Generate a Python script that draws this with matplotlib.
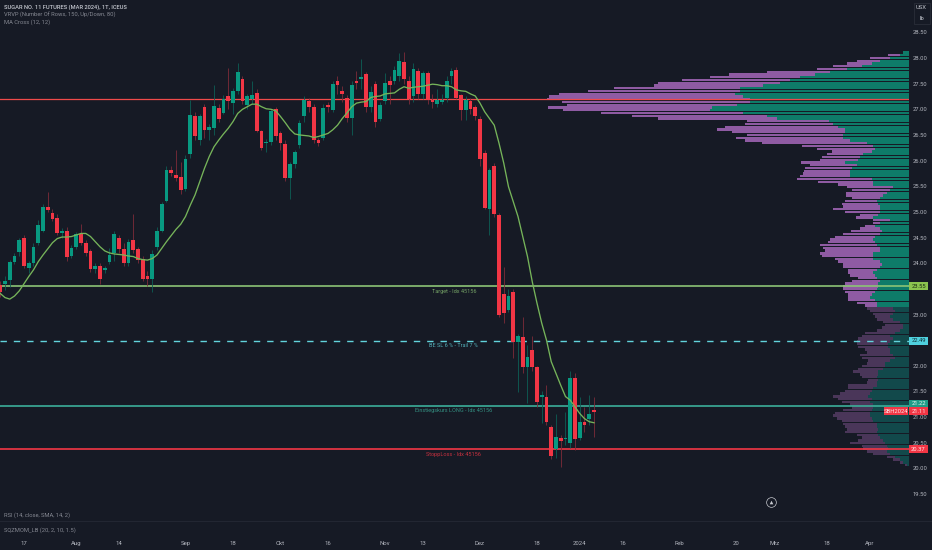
import matplotlib
matplotlib.use("Agg")
import matplotlib.pyplot as plt
import numpy as np
from matplotlib.lines import Line2D
from matplotlib.patches import FancyBboxPatch

plt.rcParams['font.family'] = ['Roboto', 'DejaVu Sans']

# daily candles, first one is five sessions before the "17" tick
opens = [23.57,23.59,23.67,24.03,24.22,24.49,23.90,24.00,24.40,24.63,
         25.09,24.98,24.89,24.59,24.63,24.14,24.32,24.57,24.40,24.23,
         23.88,23.94,23.87,24.03,24.20,24.50,24.27,24.00,24.45,24.27,
         24.09,23.75,23.70,24.32,24.63,25.22,25.82,25.71,25.69,25.45,
         26.13,26.87,26.40,27.04,26.60,26.64,27.03,26.93,27.25,27.13,
         27.36,27.60,27.08,27.20,27.31,26.58,26.34,26.37,27.00,26.53,
         26.33,25.67,25.93,26.30,26.86,27.17,27.05,26.40,26.44,27.08,
         26.99,27.56,27.36,27.23,26.84,27.55,27.59,27.68,27.04,27.49,
         26.82,27.16,27.56,27.56,27.65,27.92,27.56,27.25,27.75,27.30,
         27.70,27.19,27.10,27.15,27.23,27.64,27.77,27.27,26.98,27.17,
         27.04,26.82,26.15,25.06,25.90,24.93,23.39,23.09,23.44,22.47,
         22.57,21.97,22.31,21.98,21.40,21.40,20.81,20.37,20.60,20.57,
         20.50,21.77,20.59,20.90,20.97,21.14]
closes = [23.44,23.66,24.03,24.14,24.45,23.94,24.00,24.32,24.75,25.09,
          25.04,24.87,24.58,24.63,24.13,24.29,24.56,24.39,24.19,23.88,
          23.95,23.70,23.90,24.16,24.56,24.27,24.00,24.42,24.26,24.06,
          23.70,23.70,24.17,24.63,25.15,25.82,25.75,25.67,25.43,26.04,
          26.89,26.47,26.87,26.60,26.66,27.06,26.81,27.21,27.17,27.36,
          27.72,27.16,27.26,27.28,26.58,26.24,26.37,26.97,26.48,26.35,
          25.67,25.93,26.16,26.74,27.18,27.05,26.40,26.35,27.03,27.05,
          27.49,27.48,27.29,26.84,27.48,27.52,27.62,27.04,27.34,26.75,
          27.08,27.51,27.48,27.77,27.95,27.59,27.20,27.78,27.29,27.70,
          27.19,27.15,27.18,27.18,27.56,27.75,27.23,26.98,27.18,27.00,
          26.86,26.04,25.08,25.81,24.96,22.99,23.02,23.36,22.47,22.58,
          21.97,22.18,21.98,21.30,21.43,20.91,20.24,20.62,20.53,20.59,
          21.77,20.58,20.91,20.84,21.07,21.10]
highs = [23.65,23.75,24.06,24.20,24.50,24.55,24.05,24.40,24.85,25.15,
         25.39,25.05,24.95,24.68,24.70,24.35,24.60,24.76,24.45,24.28,
         24.00,24.00,23.95,24.30,24.62,24.55,24.40,24.48,24.96,24.32,
         24.15,23.85,24.25,24.70,25.20,25.90,25.90,26.20,25.98,26.10,
         27.18,26.95,26.90,27.10,26.72,27.47,27.10,27.27,27.80,27.42,
         27.90,27.65,27.30,27.55,27.40,26.60,26.42,27.00,27.05,26.58,
         26.40,25.97,26.20,26.80,27.25,27.22,27.10,26.45,27.10,27.15,
         27.55,27.65,27.45,27.28,27.55,27.75,27.98,27.72,27.45,27.55,
         27.15,27.70,27.65,27.85,28.10,28.12,27.65,27.90,27.80,27.75,
         27.75,27.30,27.40,27.30,27.65,27.80,27.82,27.30,27.25,27.22,
         27.08,26.87,26.20,25.85,25.95,24.98,23.93,23.50,23.50,22.62,
         22.96,22.40,22.58,22.00,21.50,21.62,20.85,21.07,20.65,21.10,
         21.90,21.85,21.40,21.20,21.43,21.40]
lows = [23.35,23.47,23.54,23.98,24.15,23.90,23.80,23.95,24.35,24.60,
        25.00,24.82,24.55,24.50,24.05,24.10,24.28,24.35,24.15,23.82,
        23.80,23.60,23.80,23.98,24.05,24.20,23.95,23.95,24.20,24.00,
        23.65,23.55,23.44,24.25,24.60,25.20,25.70,25.60,25.35,25.40,
        26.05,26.40,26.30,26.45,26.40,26.50,26.75,26.90,27.00,26.90,
        27.30,27.10,27.00,27.10,26.55,26.20,26.17,26.30,26.40,26.20,
        25.60,25.26,25.85,26.25,26.75,26.95,26.35,26.28,26.40,26.95,
        26.95,27.30,27.15,26.75,26.50,27.40,27.40,26.95,26.95,26.65,
        26.78,27.10,27.10,27.50,27.55,27.50,27.10,27.15,27.20,27.20,
        27.10,27.03,27.05,27.10,27.15,27.50,27.20,26.80,26.80,26.90,
        26.80,25.90,25.05,24.55,24.90,22.95,22.83,23.05,22.15,21.49,
        21.85,21.27,21.90,21.20,20.88,20.85,20.18,20.20,20.03,20.45,
        20.40,20.35,20.55,20.70,20.85,20.62]
ma_line = [23.41,23.33,23.30,23.36,23.46,23.60,23.74,23.87,24.03,24.16,
           24.28,24.40,24.48,24.51,24.51,24.52,24.55,24.58,24.58,24.52,
           24.42,24.32,24.24,24.20,24.18,24.17,24.16,24.14,24.13,24.09,
           24.07,24.06,24.09,24.16,24.29,24.42,24.54,24.66,24.76,24.91,
           25.13,25.33,25.59,25.85,26.08,26.27,26.40,26.52,26.63,26.76,
           26.92,27.00,27.05,27.10,27.10,27.05,27.01,27.00,26.97,26.86,
           26.74,26.61,26.52,26.50,26.49,26.48,26.45,26.47,26.50,26.53,
           26.60,26.69,26.82,26.93,27.05,27.12,27.14,27.15,27.23,27.25,
           27.26,27.30,27.31,27.32,27.39,27.44,27.41,27.43,27.44,27.45,
           27.47,27.49,27.48,27.46,27.46,27.44,27.38,27.36,27.35,27.30,
           27.26,27.12,26.95,26.82,26.69,26.34,25.95,25.49,25.20,24.91,
           24.52,24.13,23.64,23.22,22.83,22.50,22.08,21.85,21.62,21.40,
           21.33,21.20,21.07,20.97,20.91,20.89]

# volume profile rows, top of the range first
vp_total = [6,21,39,52,62,76,92,142,180,199,227,251,255,295,321,350,360,362,347,342,
            361,346,308,277,251,162,164,184,192,177,162,173,164,147,107,92,77,82,87,89,
            108,99,104,105,106,109,112,91,71,62,57,63,63,57,64,67,66,76,64,49,
            53,36,36,44,49,58,66,74,79,81,89,86,84,89,87,74,71,66,66,61,
            61,59,51,57,64,66,66,64,61,61,61,52,44,42,39,36,34,32,26,24,
            27,32,44,47,51,52,52,51,44,42,49,47,41,42,47,51,56,49,47,41,
            42,61,61,64,69,76,71,67,59,57,66,74,76,72,67,66,64,62,64,52,
            47,51,59,47,46,42,36,22,16,9,4]
vp_up = [6,9,19,29,37,47,62,79,94,109,119,129,146,169,169,174,166,159,159,172,
         197,199,166,142,132,80,76,71,64,64,66,66,59,42,36,34,37,46,49,51,
         64,52,57,59,59,59,37,36,36,16,19,22,26,29,32,31,29,29,29,31,
         36,19,29,34,29,27,29,34,36,34,32,29,29,36,36,36,29,27,29,32,
         36,34,32,29,31,31,32,34,37,39,34,32,32,16,14,16,19,16,9,6,
         6,9,14,19,16,19,21,21,19,19,16,14,19,24,24,26,31,31,32,31,
         32,32,36,37,39,41,37,39,36,36,37,39,39,37,36,32,32,31,32,31,
         29,26,24,22,21,22,19,14,9,6,2]
vp_value_rows = 93
vp_top_price = 28.107
vp_bottom_price = 20.066

# 23.50 and 22.50 sit behind the price tags, so they are left out
price_ticks = [28.5,28.0,27.5,27.0,26.5,26.0,25.5,25.0,24.5,24.0,23.0,22.0,21.5,21.0,20.5,20.0,19.5]
date_positions = [0,11,20,34,44,54,64,76,84,96,108,117,126,138,150,158,169,178]
date_labels = ['17','Aug','14','Sep','18','Okt','16','Nov','13','Dez','18','2024','16','Feb','20','Mrz','18','Apr']

resistance_price = 27.20
target_price = 23.55
trail_price = 22.49
entry_price = 21.22
stop_price = 20.37
last_price = 21.11

BG = '#161a25'
UP = '#089981'
DOWN = '#f23645'
TEXT = '#b2b5be'
MA_GREEN = '#76b45a'
TARGET_GREEN = '#8cc476'
CYAN = '#62d3dc'
ENTRY = '#3cae9a'

W, H = 932, 550


def px_rect(left, top, right, bottom):
    return [left / W, 1 - bottom / H, (right - left) / W, (bottom - top) / H]


fig = plt.figure(figsize=(W / 100, H / 100), dpi=100, facecolor=BG)

# profile sits under the price pane, one volume unit is one pixel
vp_ax = fig.add_axes(px_rect(0, 0, 909, 520), zorder=1)
ax = fig.add_axes(px_rect(0, 0, 909, 520), zorder=2)
ax.patch.set_alpha(0)

idx = np.arange(len(opens)) - 5
opens = np.array(opens)
closes = np.array(closes)
is_up = closes >= opens

# price scale: 51.3 px per unit, 28.00 sits at y=58
ymax = 28 + 58 / 51.3
ymin = 28 - 462 / 51.3
ax.set_ylim(ymin, ymax)
ax.set_xlim(-24 / 4.75, (909 - 24) / 4.75)
vp_ax.set_ylim(ymin, ymax)
vp_ax.set_xlim(909, 0)
vp_ax.axis('off')

rows = np.linspace(vp_top_price, vp_bottom_price, len(vp_total))
row_h = (vp_top_price - vp_bottom_price) / (len(vp_total) - 1)
n = vp_value_rows
vp_ax.barh(rows[:n], vp_total[:n], height=row_h * 0.9, color='#8f5ba3', linewidth=0)
vp_ax.barh(rows[:n], vp_up[:n], height=row_h * 0.9, color='#0e7b69', linewidth=0)
vp_ax.barh(rows[n:], vp_total[n:], height=row_h * 0.9, color='#4a3659', linewidth=0)
vp_ax.barh(rows[n:], vp_up[n:], height=row_h * 0.9, color='#12494b', linewidth=0)

# level lines
ax.axhline(resistance_price, color='#ef4a4a', lw=0.9, zorder=2)
ax.axhline(target_price, color=TARGET_GREEN, lw=1.2, zorder=2)
ax.axhline(trail_price, color=CYAN, lw=1.0, linestyle=(0, (4.6, 5.0)), zorder=2)
ax.axhline(entry_price, color=ENTRY, lw=1.2, zorder=2)
ax.axhline(stop_price, color=DOWN, lw=1.2, zorder=2)

# candles
ax.vlines(idx[is_up], np.array(lows)[is_up], np.array(highs)[is_up], color='#0d5f55', lw=0.6, zorder=3)
ax.vlines(idx[~is_up], np.array(lows)[~is_up], np.array(highs)[~is_up], color='#7d2b39', lw=0.6, zorder=3)
ax.bar(idx[is_up], (closes - opens)[is_up], bottom=opens[is_up], width=0.84, color=UP, linewidth=0, zorder=4)
ax.bar(idx[~is_up], (opens - closes)[~is_up], bottom=closes[~is_up], width=0.84, color=DOWN, linewidth=0, zorder=4)
ax.plot(idx, ma_line, color=MA_GREEN, lw=0.95, zorder=5)

for s in ax.spines.values():
    s.set_visible(False)
ax.yaxis.tick_right()
ax.set_yticks(price_ticks)
ax.set_yticklabels([f'{p:.2f}' for p in price_ticks])
ax.tick_params(axis='y', length=0, pad=2.4, labelsize=4.2, labelcolor=TEXT)
ax.set_xticks(date_positions)
ax.set_xticklabels(date_labels)
ax.tick_params(axis='x', length=0, pad=15, labelsize=4.3, labelcolor=TEXT)

# line captions
cap_x = 90.5
for price, txt, col in [(target_price, 'Target - Idx 45156', TARGET_GREEN),
                        (trail_price, 'BE SL 6 % - Trail 7 %', CYAN),
                        (entry_price, 'Einstiegskurs LONG - Idx 45156', ENTRY),
                        (stop_price, 'StoppLoss - Idx 45156', DOWN)]:
    ax.annotate(txt, (cap_x, price), xytext=(0, -1.6), textcoords='offset points',
                ha='center', va='top', fontsize=4.0, color=col, alpha=0.8, zorder=6)


# price tags in the axis strip
def tag(price, label, bg, fg, left=909, right=928, shift=0):
    y = 58 + (28 - price) * 51.3 + shift
    box = FancyBboxPatch((left / W, 1 - (y + 4) / H), (right - left) / W, 8 / H,
                         boxstyle='square,pad=0', transform=fig.transFigure,
                         facecolor=bg, edgecolor='none', zorder=20)
    fig.add_artist(box)
    fig.text((left + right) / 2 / W, 1 - y / H, label, ha='center', va='center',
             fontsize=4.2, color=fg, zorder=21)


tag(target_price, f'{target_price:.2f}', '#8cc34f', '#1b2a12')
tag(trail_price, f'{trail_price:.2f}', '#4fd0de', '#10333a')
tag(entry_price, f'{entry_price:.2f}', '#1f9d88', '#e8f5f2', shift=-2)
tag(last_price, f'{last_price:.2f}', DOWN, '#ffe6e8')
tag(last_price, 'SBH2024', DOWN, '#ffe6e8', left=884, right=908)
tag(stop_price, f'{stop_price:.2f}', DOWN, '#ffe6e8')

# pane titles
fig.text(4 / W, 1 - 7 / H, 'SUGAR NO. 11 FUTURES (MAR 2024), 1T, ICEUS', fontsize=4.15,
         color='#c4c7cf', va='center', fontweight='medium')
fig.text(4 / W, 1 - 15 / H, 'VRVP (Number Of Rows, 150, Up/Down, 80)', fontsize=4.15, color='#858892', va='center')
fig.text(4 / W, 1 - 22.5 / H, 'MA Cross (12, 12)', fontsize=4.15, color='#858892', va='center')
fig.text(4 / W, 1 - 515 / H, 'RSI (14, close, SMA, 14, 2)', fontsize=4.15, color='#858892', va='center')
fig.text(4 / W, 1 - 530 / H, 'SQZMOM_LB (20, 2, 10, 1.5)', fontsize=4.15, color='#858892', va='center')

# pane separator
fig.add_artist(Line2D([0, 1], [1 - 520.5 / H] * 2, color='#232733', lw=0.7))

# currency and unit box
fig.add_artist(FancyBboxPatch((913.5 / W, 1 - 24 / H), 16 / W, 21 / H, boxstyle='square,pad=0',
                              transform=fig.transFigure, facecolor='none', edgecolor='#2a2e39', lw=0.6))
fig.text(921.5 / W, 1 - 7.5 / H, 'USX', fontsize=4.2, color='#c4c7cf', ha='center', va='center')
fig.text(921.5 / W, 1 - 18 / H, 'lb', fontsize=4.2, color='#c4c7cf', ha='center', va='center')

# round logo at the bottom of the pane
lx, ly = 770.7 / W, 1 - 502 / H
fig.add_artist(Line2D([lx], [ly], marker='o', ms=7, mfc='none', mec='#c8cad0', mew=0.5))
fig.add_artist(Line2D([lx], [ly], marker='^', ms=2.6, mfc='#c8cad0', mec='none'))

fig.savefig('out.png', dpi=100, facecolor=BG)
